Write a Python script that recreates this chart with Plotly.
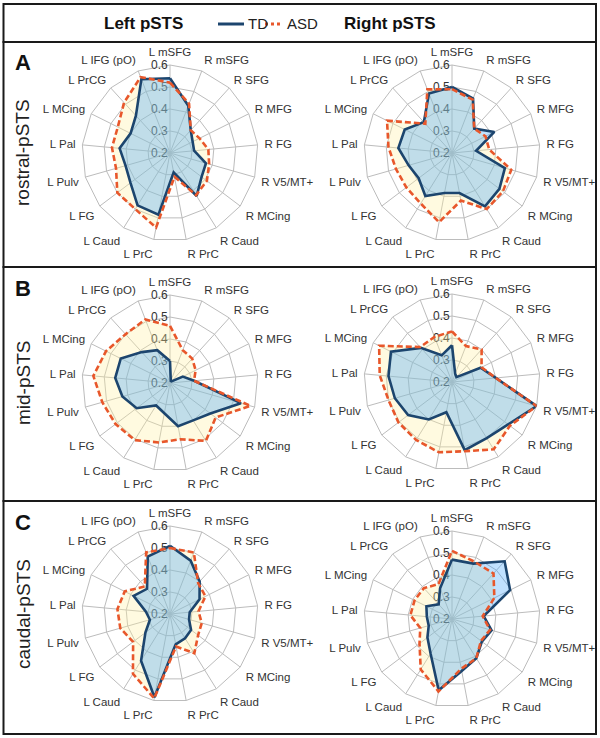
"""pSTS connectivity radar charts: TD vs ASD"""

import plotly.graph_objects as go

REGIONS = [
    "L mSFG", "R mSFG", "R SFG", "R MFG", "R FG", "R V5/MT+", "R MCing",
    "R Caud", "R PrC", "L PrC", "L Caud", "L FG", "L Pulv", "L Pal",
    "L MCing", "L PrCG", "L IFG (pO)",
]
RADIAL_TICKS = [0.2, 0.3, 0.4, 0.5, 0.6]
ROW_NAMES = ["rostral-pSTS", "mid-pSTS", "caudal-pSTS"]
ROW_LETTERS = ["A", "B", "C"]
SIDE_NAMES = ["Left pSTS", "Right pSTS"]

# rostral-pSTS
rostral_left_td = [0.54, 0.43, 0.34, 0.315, 0.31, 0.37, 0.38, 0.43, 0.29, 0.485, 0.48, 0.425, 0.41, 0.43, 0.40, 0.43, 0.56]
rostral_left_asd = [0.52, 0.44, 0.34, 0.35, 0.375, 0.385, 0.41, 0.425, 0.31, 0.545, 0.50, 0.50, 0.455, 0.465, 0.465, 0.51, 0.57]
rostral_right_td = [0.50, 0.465, 0.35, 0.415, 0.31, 0.45, 0.47, 0.485, 0.385, 0.385, 0.43, 0.39, 0.405, 0.445, 0.44, 0.39, 0.49]
rostral_right_asd = [0.49, 0.46, 0.35, 0.37, 0.37, 0.48, 0.49, 0.50, 0.42, 0.52, 0.47, 0.46, 0.465, 0.49, 0.53, 0.38, 0.51]

# mid-pSTS
mid_left_td = [0.30, 0.21, 0.21, 0.265, 0.31, 0.535, 0.43, 0.40, 0.40, 0.34, 0.32, 0.39, 0.425, 0.45, 0.45, 0.39, 0.36]
mid_left_asd = [0.46, 0.36, 0.35, 0.33, 0.31, 0.58, 0.46, 0.51, 0.46, 0.475, 0.505, 0.51, 0.52, 0.55, 0.525, 0.50, 0.51]
mid_right_td = [0.367, 0.24, 0.23, 0.345, 0.40, 0.60, 0.52, 0.50, 0.515, 0.34, 0.40, 0.45, 0.47, 0.49, 0.51, 0.41, 0.33]
mid_right_asd = [0.43, 0.375, 0.40, 0.35, 0.40, 0.60, 0.53, 0.56, 0.52, 0.525, 0.51, 0.505, 0.50, 0.53, 0.57, 0.415, 0.42]

# caudal-pSTS
caudal_left_td = [0.51, 0.46, 0.40, 0.35, 0.29, 0.29, 0.32, 0.33, 0.34, 0.585, 0.45, 0.34, 0.295, 0.31, 0.385, 0.355, 0.48]
caudal_left_asd = [0.50, 0.50, 0.39, 0.38, 0.33, 0.35, 0.36, 0.41, 0.35, 0.59, 0.52, 0.41, 0.435, 0.44, 0.43, 0.37, 0.50]
caudal_right_td = [0.47, 0.47, 0.555, 0.495, 0.345, 0.387, 0.37, 0.41, 0.44, 0.53, 0.385, 0.34, 0.31, 0.315, 0.33, 0.29, 0.35]
caudal_right_asd = [0.51, 0.48, 0.48, 0.415, 0.34, 0.38, 0.365, 0.41, 0.43, 0.535, 0.47, 0.385, 0.35, 0.39, 0.39, 0.39, 0.37]

PANELS = [
    [(rostral_left_td, rostral_left_asd), (rostral_right_td, rostral_right_asd)],
    [(mid_left_td, mid_left_asd), (mid_right_td, mid_right_asd)],
    [(caudal_left_td, caudal_left_asd), (caudal_right_td, caudal_right_asd)],
]

W, H = 600, 738
FONT = "Liberation Sans, Arial, sans-serif"
TD_COLOR = "#1c456e"
ASD_COLOR = "#e8572b"
TD_FILL = "rgba(45,155,255,0.30)"
ASD_FILL = "rgba(255,240,160,0.32)"
GRID = "#bcbcbc"

# panel centres (px from top-left) and polygon radius
COL_X = [170, 452]
ROW_Y = [[153, 153], [383, 382], [614, 619]]
RADIUS = 88
# row boxes: header, A, B, C
BOX_Y = [4, 42, 267, 501, 734]
BOX_X = [3.5, 596]


def px(x):
    return x / W


def py(y):
    return 1 - y / H


def closed(values):
    return values + values[:1], REGIONS + REGIONS[:1]


fig = go.Figure()
layout = {}

n = 0
for row in range(3):
    for col in range(2):
        n += 1
        name = "polar" if n == 1 else f"polar{n}"
        td, asd = PANELS[row][col]
        asd_r, theta = closed(asd)
        td_r, _ = closed(td)

        fig.add_trace(go.Scatterpolar(
            r=asd_r, theta=theta, mode="lines", fill="toself",
            fillcolor=ASD_FILL, line=dict(width=0), subplot=name,
            showlegend=False, hoverinfo="skip",
        ))
        fig.add_trace(go.Scatterpolar(
            r=td_r, theta=theta, mode="lines", fill="toself",
            fillcolor=TD_FILL, line=dict(color=TD_COLOR, width=2.6),
            subplot=name, name="TD", showlegend=False,
        ))
        fig.add_trace(go.Scatterpolar(
            r=asd_r, theta=theta, mode="lines",
            line=dict(color=ASD_COLOR, width=2.6, dash="6px,3px"),
            subplot=name, name="ASD", showlegend=False,
        ))

        cx, cy = COL_X[col], ROW_Y[row][col]
        layout[name] = dict(
            domain=dict(x=[px(cx - RADIUS), px(cx + RADIUS)],
                        y=[py(cy + RADIUS), py(cy - RADIUS)]),
            bgcolor="white",
            gridshape="linear",
            radialaxis=dict(
                range=[0.2, 0.6], tickvals=RADIAL_TICKS,
                ticktext=[f"{v:.1f}" for v in RADIAL_TICKS],
                angle=90, side="counterclockwise", tickangle=90,
                showline=False, ticks="", gridcolor=GRID, gridwidth=1,
                tickfont=dict(size=12, color="#333", family=FONT),
                layer="below traces",
            ),
            angularaxis=dict(
                direction="clockwise", rotation=90,
                categoryorder="array", categoryarray=REGIONS,
                showline=True, linecolor=GRID, linewidth=1,
                gridcolor=GRID, gridwidth=1,
                ticks="outside", ticklen=4, tickcolor="rgba(0,0,0,0)",
                tickfont=dict(size=11.5, color="#333", family=FONT),
                layer="below traces",
            ),
        )

shapes = []
for i in range(4):
    shapes.append(dict(
        type="rect", xref="paper", yref="paper",
        x0=px(BOX_X[0]), x1=px(BOX_X[1]), y0=py(BOX_Y[i + 1]), y1=py(BOX_Y[i]),
        line=dict(color="#1a1a1a", width=2),
    ))

# legend in the header
shapes.append(dict(type="line", xref="paper", yref="paper",
                   x0=px(218), x1=px(244), y0=py(24), y1=py(24),
                   line=dict(color=TD_COLOR, width=3)))
shapes.append(dict(type="line", xref="paper", yref="paper",
                   x0=px(265), x1=px(283), y0=py(24), y1=py(24),
                   line=dict(color=ASD_COLOR, width=3, dash="3px,3px")))

annotations = [
    dict(text="TD", x=px(246), y=py(24), xanchor="left"),
    dict(text="ASD", x=px(285), y=py(24), xanchor="left"),
]
for a in annotations:
    a.update(xref="paper", yref="paper", yanchor="middle", showarrow=False,
             font=dict(size=15, color="#222", family=FONT))

for x, label in zip([143, 390], SIDE_NAMES):
    annotations.append(dict(
        text=f"<b>{label}</b>", x=px(x), y=py(24), xref="paper", yref="paper",
        xanchor="center", yanchor="middle", showarrow=False,
        font=dict(size=17, color="#111", family=FONT),
    ))

for row in range(3):
    annotations.append(dict(
        text=f"<b>{ROW_LETTERS[row]}</b>", x=px(23), y=py(BOX_Y[row + 1] + 21),
        xref="paper", yref="paper", xanchor="center", yanchor="middle",
        showarrow=False, font=dict(size=22, color="#111", family=FONT),
    ))
    annotations.append(dict(
        text=ROW_NAMES[row], x=px(23), y=py(ROW_Y[row][0]),
        xref="paper", yref="paper", xanchor="center", yanchor="middle",
        showarrow=False, textangle=-90,
        font=dict(size=19, color="#222", family=FONT),
    ))

fig.update_layout(
    **layout,
    width=W, height=H,
    margin=dict(l=0, r=0, t=0, b=0),
    paper_bgcolor="white",
    showlegend=False,
    shapes=shapes,
    annotations=annotations,
    font=dict(family=FONT),
)

# page body has a default 8px margin; drop it so the figure sits at 0,0
fig.write_html(
    "out.html",
    config={"displayModeBar": False},
    post_script="document.body.style.margin = '0';",
)
